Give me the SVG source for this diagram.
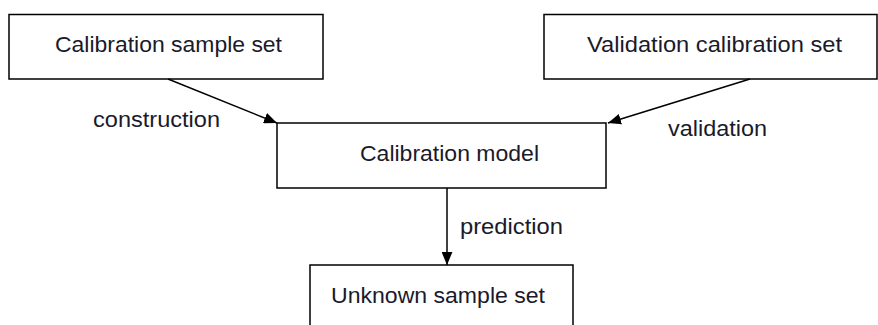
<svg xmlns="http://www.w3.org/2000/svg" width="878" height="325" viewBox="0 0 878 325">
  <style>
    .box { fill: #ffffff; stroke: #000000; stroke-width: 1.5; }
    .lbl { font-family: "Liberation Sans", Arial, sans-serif; font-size: 22px; fill: #1a1a2a; }
    .edge { stroke: #000000; stroke-width: 1.5; fill: none; marker-end: url(#head); }
  </style>
  <defs>
    <marker id="head" viewBox="0 0 12 10" refX="12" refY="5" markerWidth="13" markerHeight="11" markerUnits="userSpaceOnUse" orient="auto">
      <path d="M0,0 L12,5 L0,10 Z" fill="#000000"/>
    </marker>
  </defs>
  <rect width="878" height="325" fill="#ffffff"/>

  <g id="calibration-sample-set">
    <rect class="box" x="9" y="14.5" width="314" height="64.5"/>
    <text class="lbl" x="55" y="52" textLength="227" lengthAdjust="spacingAndGlyphs">Calibration sample set</text>
  </g>

  <g id="validation-calibration-set">
    <rect class="box" x="544" y="14.5" width="333" height="64.5"/>
    <text class="lbl" x="587" y="52" textLength="255" lengthAdjust="spacingAndGlyphs">Validation calibration set</text>
  </g>

  <g id="calibration-model">
    <rect class="box" x="277" y="123" width="329" height="65"/>
    <text class="lbl" x="360" y="161" textLength="179" lengthAdjust="spacingAndGlyphs">Calibration model</text>
  </g>

  <g id="unknown-sample-set">
    <rect class="box" x="310" y="265" width="263" height="70"/>
    <text class="lbl" x="331" y="303" textLength="214" lengthAdjust="spacingAndGlyphs">Unknown sample set</text>
  </g>

  <g id="connectors">
    <line class="edge" x1="168" y1="79" x2="277" y2="123"/>
    <line class="edge" x1="750" y1="79" x2="608" y2="123"/>
    <line class="edge" x1="447" y1="188" x2="447" y2="265"/>
    <text class="lbl" x="93" y="127" textLength="127" lengthAdjust="spacingAndGlyphs">construction</text>
    <text class="lbl" x="668" y="136" textLength="99" lengthAdjust="spacingAndGlyphs">validation</text>
    <text class="lbl" x="460" y="234" textLength="103" lengthAdjust="spacingAndGlyphs">prediction</text>
  </g>
</svg>
